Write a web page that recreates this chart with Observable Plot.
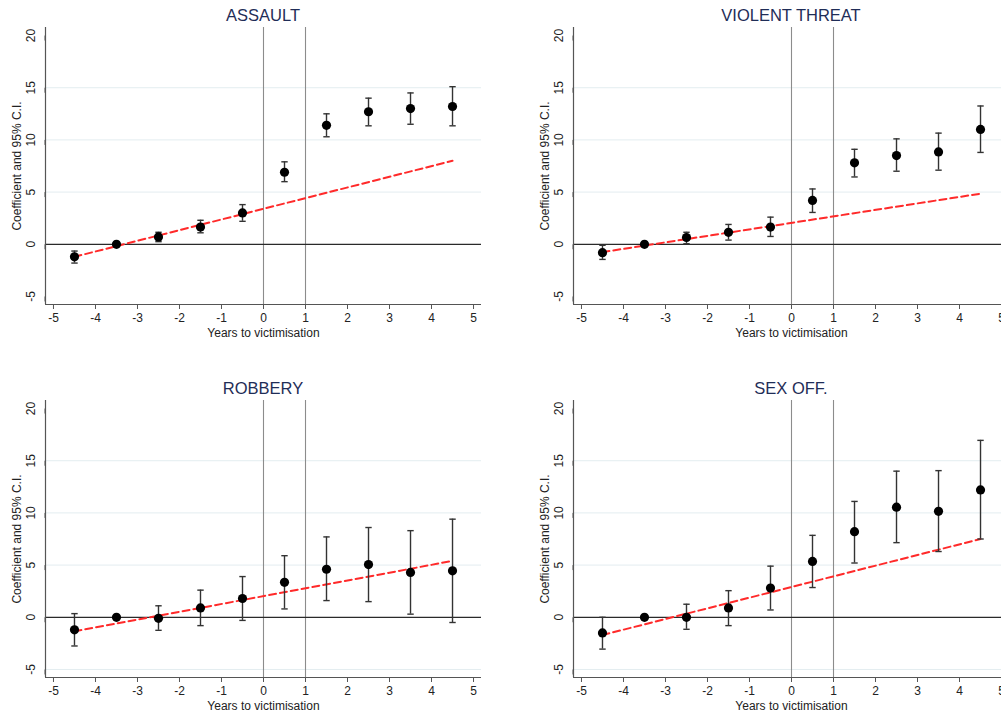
<!DOCTYPE html>
<html><head><meta charset="utf-8">
<script src="https://cdn.jsdelivr.net/npm/d3@7"></script>
<script src="https://cdn.jsdelivr.net/npm/@observablehq/plot@0.6"></script>
<style>
html,body{margin:0;padding:0;background:#fff;overflow:hidden;}
#root{position:relative;width:1001px;height:715px;overflow:hidden;background:#fff;}
.panel{position:absolute;width:500px;height:340px;}
.title{position:absolute;left:45px;width:436px;top:4px;text-align:center;font-family:"Liberation Sans",Arial,sans-serif;font-size:16.5px;color:#1f2d57;line-height:22px;white-space:nowrap;}
.panel svg{position:absolute;top:22px;left:0;}
</style></head><body><div id="root"></div>
<script>
const years = [-4.5, -3.5, -2.5, -1.5, -0.5, 0.5, 1.5, 2.5, 3.5, 4.5];
const panelTitles = ["ASSAULT", "VIOLENT THREAT", "ROBBERY", "SEX OFF."];

const assaultCoef = [-1.2, 0, 0.7, 1.65, 3.0, 6.9, 11.4, 12.7, 13.0, 13.2];
const assaultLo   = [-1.8, null, 0.25, 1.1, 2.2, 6.0, 10.3, 11.35, 11.5, 11.35];
const assaultHi   = [-0.65, null, 1.15, 2.3, 3.8, 7.9, 12.5, 14.0, 14.5, 15.1];

const threatCoef = [-0.8, 0, 0.65, 1.15, 1.65, 4.2, 7.8, 8.5, 8.85, 11.0];
const threatLo   = [-1.45, null, 0.05, 0.4, 0.75, 3.05, 6.45, 7.0, 7.1, 8.8];
const threatHi   = [-0.1, null, 1.15, 1.9, 2.6, 5.3, 9.1, 10.1, 10.65, 13.25];

const robberyCoef = [-1.2, 0, -0.1, 0.9, 1.8, 3.35, 4.6, 5.05, 4.3, 4.45];
const robberyLo   = [-2.75, null, -1.25, -0.8, -0.3, 0.8, 1.6, 1.5, 0.3, -0.5];
const robberyHi   = [0.35, null, 1.1, 2.6, 3.9, 5.9, 7.7, 8.6, 8.3, 9.4];

const sexCoef = [-1.5, 0, 0.0, 0.9, 2.8, 5.35, 8.2, 10.55, 10.15, 12.2];
const sexLo   = [-3.05, null, -1.15, -0.8, 0.7, 2.85, 5.2, 7.15, 6.3, 7.5];
const sexHi   = [0.0, null, 1.25, 2.55, 4.9, 7.85, 11.1, 14.0, 14.05, 16.95];

const trendX = [-4.5, 4.5];
const assaultTrend = [-1.2, 8.0];
const threatTrend = [-0.75, 4.85];
const robberyTrend = [-1.35, 5.4];
const sexTrend = [-1.7, 7.5];

const xTicks = [-5, -4, -3, -2, -1, 0, 1, 2, 3, 4, 5];
const yTicks = [-5, 0, 5, 10, 15, 20];
const eventLines = [0, 1];
const gridTop = [5, 10, 15];
const gridBottom = [-5, 5, 10, 15];
const xLabel = "Years to victimisation";
const yLabel = "Coefficient and 95% C.I.";

const series = [
  {coef: assaultCoef, lo: assaultLo, hi: assaultHi, trend: assaultTrend, grid: gridTop},
  {coef: threatCoef, lo: threatLo, hi: threatHi, trend: threatTrend, grid: gridTop},
  {coef: robberyCoef, lo: robberyLo, hi: robberyHi, trend: robberyTrend, grid: gridBottom},
  {coef: sexCoef, lo: sexLo, hi: sexHi, trend: sexTrend, grid: gridBottom}
];
const panelPos = [[0, 0], [528, 0], [0, 373], [528, 373]];

const xDom = [-5.19, 5.19];
const yDom = [-5.77, 20.77];
const capSymbol = {draw(ctx) { ctx.moveTo(-3.2, 0); ctx.lineTo(3.2, 0); }};
const font = "'Liberation Sans', Arial, Helvetica, sans-serif";

const root = document.getElementById("root");
series.forEach((s, i) => {
  const pts = years.map((x, j) => ({x, y: s.coef[j], lo: s.lo[j], hi: s.hi[j]}));
  const ci = pts.filter(d => d.lo != null);
  const trend = trendX.map((x, j) => ({x, y: s.trend[j]}));
  const chart = Plot.plot({
    width: 500, height: 318,
    marginTop: 5, marginBottom: 36, marginLeft: 45, marginRight: 19,
    x: {domain: xDom}, y: {domain: yDom},
    style: {fontFamily: font, fontSize: "12px", color: "#222", background: "transparent", overflow: "visible"},
    marks: [
      Plot.ruleY(s.grid, {stroke: "#e3edf0", strokeWidth: 1}),
      Plot.ruleX(eventLines, {stroke: "#8c8c8c", strokeWidth: 1.1}),
      Plot.ruleY([0], {stroke: "#2a2a2a", strokeWidth: 1.3}),
      Plot.ruleX([xDom[0]], {stroke: "#555", strokeWidth: 1.2}),
      Plot.ruleY([yDom[0]], {stroke: "#555", strokeWidth: 1.2}),
      Plot.axisX({ticks: xTicks, tickSize: 5, tickPadding: 4, tickFormat: d => String(d), label: null, stroke: "#555"}),
      Plot.axisY({ticks: yTicks, tickSize: 5, tickPadding: 9, tickFormat: d => String(d), label: null, rotate: -90, textAnchor: "middle", stroke: "#555"}),
      Plot.text([xLabel], {frameAnchor: "bottom", lineAnchor: "middle", textAnchor: "middle", dy: 29, fill: "#222", fontSize: 12}),
      Plot.text([yLabel], {frameAnchor: "left", lineAnchor: "middle", textAnchor: "middle", dx: -28, rotate: -90, fill: "#222", fontSize: 12}),
      Plot.line(trend, {x: "x", y: "y", stroke: "#ff2a2a", strokeWidth: 2, strokeDasharray: "7,4"}),
      Plot.ruleX(ci, {x: "x", y1: "lo", y2: "hi", stroke: "#333", strokeWidth: 1.4}),
      Plot.dot(ci, {x: "x", y: "hi", symbol: capSymbol, r: 3, stroke: "#333", strokeWidth: 1.4, fill: "none"}),
      Plot.dot(ci, {x: "x", y: "lo", symbol: capSymbol, r: 3, stroke: "#333", strokeWidth: 1.4, fill: "none"}),
      Plot.dot(pts, {x: "x", y: "y", r: 4.6, fill: "#000", stroke: "none"})
    ]
  });
  const panel = document.createElement("div");
  panel.className = "panel";
  panel.style.left = panelPos[i][0] + "px";
  panel.style.top = panelPos[i][1] + "px";
  const t = document.createElement("div");
  t.className = "title";
  t.textContent = panelTitles[i];
  panel.appendChild(t);
  panel.appendChild(chart);
  root.appendChild(panel);
});
</script>
</body></html>
